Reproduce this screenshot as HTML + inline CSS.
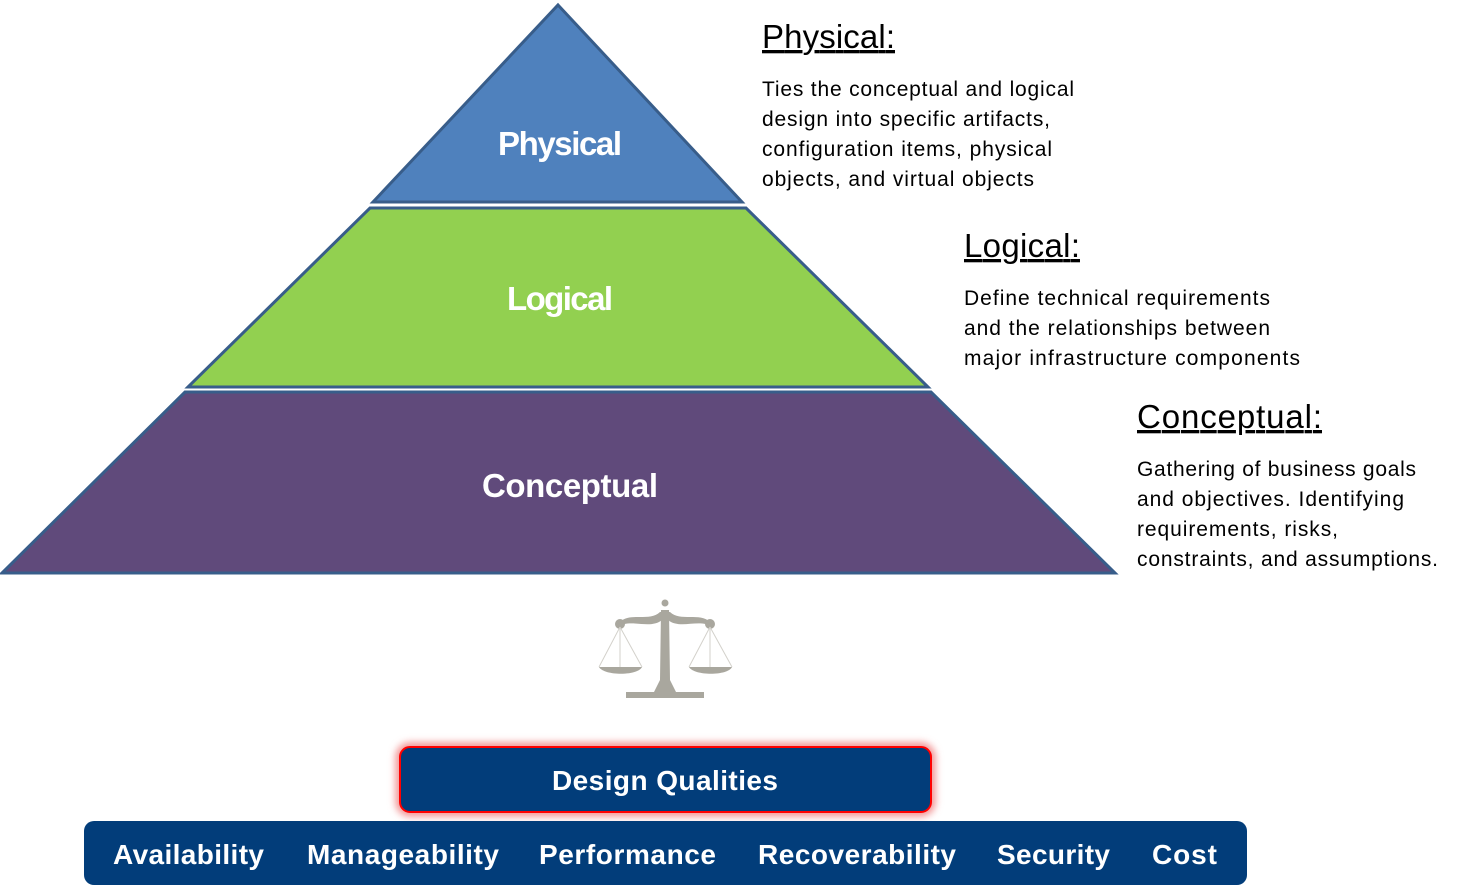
<!DOCTYPE html>
<html><head><meta charset="utf-8"><style>
html,body{margin:0;padding:0;background:#fff;}
svg{display:block;}
.h{font-family:"Liberation Sans",sans-serif;font-size:33px;fill:#000;text-decoration:underline;}
.b{font-family:"Liberation Sans",sans-serif;font-size:21px;fill:#000;}
.p{font-family:"Liberation Sans",sans-serif;font-weight:bold;fill:#fff;text-anchor:middle;}
.q{font-family:"Liberation Sans",sans-serif;font-weight:bold;fill:#fff;font-size:28px;}
</style></head><body>
<svg width="1459" height="888" viewBox="0 0 1459 888" xmlns="http://www.w3.org/2000/svg">
<defs>
<filter id="glow" x="-10%" y="-40%" width="120%" height="180%"><feGaussianBlur stdDeviation="4"/></filter>
</defs>
<polygon points="558,5 742,202 373,202" fill="#4F81BD" stroke="#385D8A" stroke-width="3"/>
<polygon points="370,208 746,208 928,387 188,387" fill="#92D050" stroke="#385D8A" stroke-width="3"/>
<polygon points="185,392 931,392 1115,573 2,573" fill="#604A7B" stroke="#385D8A" stroke-width="3"/>
<text class="p" x="560" y="155" font-size="33" textLength="124">Physical</text>
<text class="p" x="560" y="310" font-size="33" textLength="106">Logical</text>
<text class="p" x="570" y="497" font-size="33" textLength="176">Conceptual</text>

<text class="h" x="762" y="48" textLength="133">Physical:</text>
<text class="b" x="762" y="96" textLength="312">Ties the conceptual and logical</text>
<text class="b" x="762" y="126" textLength="288">design into specific artifacts,</text>
<text class="b" x="762" y="156" textLength="290">configuration items, physical</text>
<text class="b" x="762" y="186" textLength="272">objects, and virtual objects</text>

<text class="h" x="964" y="257" textLength="116">Logical:</text>
<text class="b" x="964" y="305" textLength="306">Define technical requirements</text>
<text class="b" x="964" y="335" textLength="306">and the relationships between</text>
<text class="b" x="964" y="365" textLength="336">major infrastructure components</text>

<text class="h" x="1137" y="428" textLength="185">Conceptual:</text>
<text class="b" x="1137" y="476" textLength="279">Gathering of business goals</text>
<text class="b" x="1137" y="506" textLength="267">and objectives. Identifying</text>
<text class="b" x="1137" y="536" textLength="201">requirements, risks,</text>
<text class="b" x="1137" y="566" textLength="301">constraints, and assumptions.</text>

<g fill="#A9A79E" stroke="none">
<circle cx="665" cy="603" r="3.5"/>
<path d="M620,622 C630,612 650,622 660,612 L670,612 C680,622 700,612 710,622 L712,627 C700,618 680,630 668,620 L662,620 C650,630 630,618 618,627 Z"/>
<path d="M661,610 L669,610 L670,680 L676,692 L662,692 L658,692 L654,692 L660,680 Z"/>
<rect x="626" y="692" width="78" height="6"/>
<circle cx="620" cy="624" r="5"/><circle cx="710" cy="624" r="5"/>
<path d="M599,667 L642,667 C638,676 604,676 599,667 Z"/>
<path d="M689,667 L732,667 C728,676 694,676 689,667 Z"/>
</g>
<g stroke="#D3D1CB" stroke-width="1" fill="none">
<path d="M620,627 L599,667 M620,627 L642,667 M620,627 L620,667"/>
<path d="M710,627 L689,667 M710,627 L732,667 M710,627 L710,667"/>
</g>

<rect x="400" y="747" width="531" height="65" rx="10" fill="none" stroke="#F08080" stroke-width="8" filter="url(#glow)"/>
<rect x="400" y="747" width="531" height="65" rx="10" fill="#023D7A" stroke="#FF0000" stroke-width="2"/>
<text class="q" x="665" y="790" text-anchor="middle" textLength="226">Design Qualities</text>

<rect x="84" y="821" width="1163" height="64" rx="10" fill="#023D7A"/>
<text class="q" x="113" y="864" textLength="151">Availability</text>
<text class="q" x="307" y="864" textLength="192">Manageability</text>
<text class="q" x="539" y="864" textLength="177">Performance</text>
<text class="q" x="758" y="864" textLength="198">Recoverability</text>
<text class="q" x="997" y="864" textLength="113">Security</text>
<text class="q" x="1152" y="864" textLength="65">Cost</text>
</svg>
</body></html>
